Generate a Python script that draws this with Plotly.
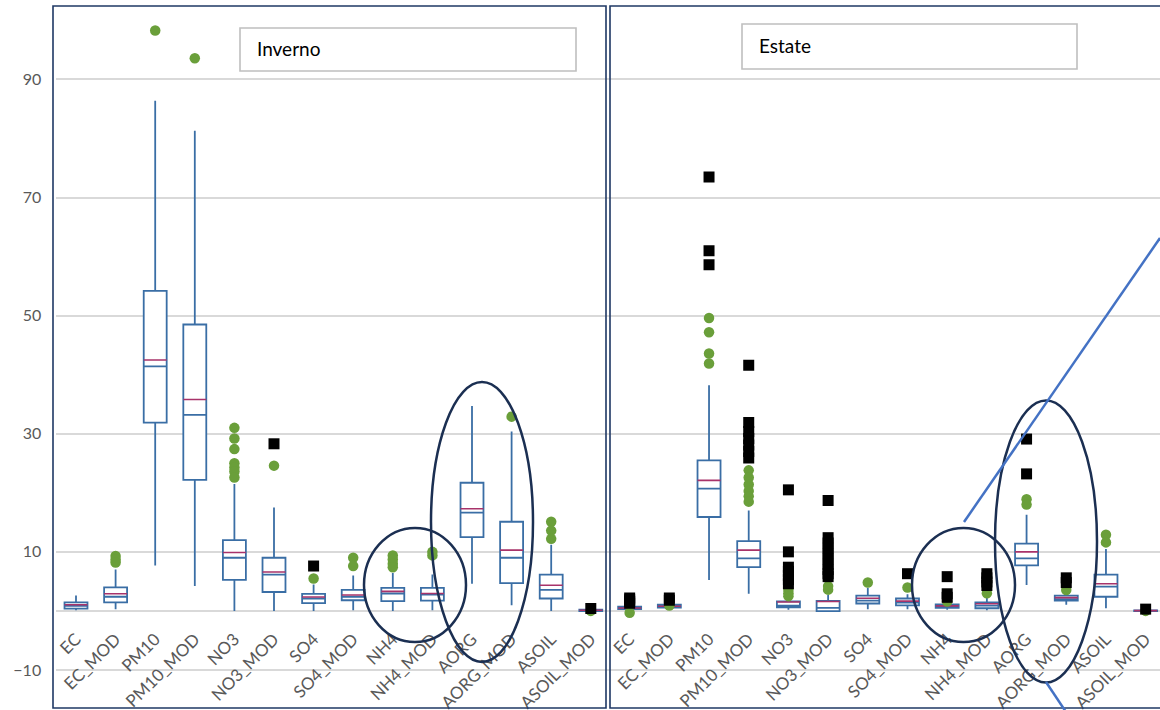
import plotly.graph_objects as go

# ---- data -------------------------------------------------------------
CATEGORIES = ["EC", "EC_MOD", "PM10", "PM10_MOD", "NO3", "NO3_MOD", "SO4",
              "SO4_MOD", "NH4", "NH4_MOD", "AORG", "AORG_MOD", "ASOIL", "ASOIL_MOD"]

# Inverno (winter) box statistics
inv_lower = [0.1, 0.3, 7.7, 4.2, 0.0, 0.0, 0.0, 0.1, 0.0, 0.1, 4.6, 0.95, 0.0, -0.1]
inv_q1 = [0.4, 1.45, 31.9, 22.2, 5.25, 3.2, 1.3, 1.8, 1.65, 1.75, 12.5, 4.7, 2.1, -0.05]
inv_median = [0.85, 2.4, 41.4, 33.2, 9.0, 6.15, 2.1, 2.4, 2.95, 2.75, 16.65, 9.0, 3.55, 0.05]
inv_q3 = [1.45, 4.0, 54.2, 48.5, 12.0, 9.0, 2.9, 3.55, 3.9, 3.9, 21.7, 15.1, 6.15, 0.2]
inv_upper = [2.6, 7.0, 86.4, 81.3, 21.5, 17.5, 4.45, 6.0, 6.4, 6.15, 34.7, 30.4, 11.2, 0.3]
inv_mean = [1.05, 2.9, 42.5, 35.8, 9.9, 6.6, 2.35, 2.7, 3.3, 2.95, 17.3, 10.3, 4.35, 0.1]

inv_green_cat = ["EC_MOD"] * 3 + ["PM10", "PM10_MOD"] + ["NO3"] * 7 + ["NO3_MOD", "SO4"] \
    + ["SO4_MOD"] * 2 + ["NH4"] * 4 + ["NH4_MOD"] * 2 + ["AORG_MOD"] + ["ASOIL"] * 3 + ["ASOIL_MOD"]
inv_green_val = [9.3, 8.7, 8.2, 98.3, 93.6, 31.0, 29.2, 27.4, 25.0, 24.3, 23.6, 22.6, 24.6, 5.5,
                 9.0, 7.6, 9.4, 8.7, 8.0, 7.4, 10.0, 9.4, 32.9, 15.1, 13.6, 12.2, 0.0]

inv_black_cat = ["NO3_MOD", "SO4", "ASOIL_MOD"]
inv_black_val = [28.3, 7.6, 0.4]

# Estate (summer) box statistics
est_lower = [0.1, 0.2, 5.25, 2.9, 0.2, 0.0, 0.3, 0.3, 0.2, 0.1, 4.4, 1.05, 0.45, -0.1]
est_q1 = [0.3, 0.55, 15.9, 7.4, 0.6, -0.05, 1.25, 0.95, 0.5, 0.45, 7.7, 1.75, 2.4, -0.05]
est_median = [0.45, 0.75, 20.7, 8.9, 0.9, 0.5, 1.75, 1.4, 0.7, 0.9, 8.9, 2.0, 4.1, 0.0]
est_q3 = [0.7, 1.05, 25.5, 11.8, 1.6, 1.7, 2.6, 2.1, 1.1, 1.45, 11.4, 2.6, 6.15, 0.1]
est_upper = [1.0, 1.3, 38.2, 17.0, 2.5, 2.7, 3.9, 2.8, 1.4, 2.6, 16.3, 3.0, 10.5, 0.2]
est_mean = [0.5, 0.8, 22.1, 10.3, 1.5, 1.6, 2.15, 1.65, 0.85, 1.2, 10.0, 2.25, 4.6, 0.05]

est_green_cat = ["EC", "EC_MOD"] + ["PM10"] * 4 + ["PM10_MOD"] * 6 + ["NO3"] * 3 + ["NO3_MOD"] * 2 \
    + ["SO4", "SO4_MOD", "NH4", "NH4_MOD"] + ["AORG"] * 2 + ["AORG_MOD"] + ["ASOIL"] * 2 + ["ASOIL_MOD"]
est_green_val = [-0.3, 0.9, 49.6, 47.2, 43.6, 41.9, 23.8, 22.6, 21.4, 20.3, 19.4, 18.5,
                 3.6, 3.0, 2.5, 4.2, 3.6, 4.8, 3.95, 1.6, 3.0, 18.9, 18.0, 3.55, 12.9, 11.6, 0.0]

est_black_cat = ["EC"] * 4 + ["EC_MOD"] * 2 + ["PM10"] * 3 + ["PM10_MOD"] * 7 + ["NO3"] * 7 \
    + ["NO3_MOD"] * 10 + ["SO4_MOD"] + ["NH4"] * 3 + ["NH4_MOD"] * 4 + ["AORG"] * 2 \
    + ["AORG_MOD"] * 2 + ["ASOIL_MOD"]
est_black_val = [2.2, 1.9, 1.6, 1.3, 2.2, 1.8, 73.5, 61.0, 58.6,
                 41.6, 31.9, 30.4, 29.2, 28.1, 27.0, 25.9,
                 20.5, 10.0, 7.4, 6.7, 6.0, 5.3, 4.6,
                 18.7, 12.4, 11.5, 10.6, 9.7, 8.8, 7.9, 7.0, 6.3, 5.8,
                 6.3, 5.8, 2.9, 2.3, 6.3, 5.6, 4.9, 4.3, 29.1, 23.2, 5.6, 4.8, 0.3]

Y_TICKS = [-10, 10, 30, 50, 70, 90]
PANEL_TITLES = ["Inverno", "Estate"]

# ---- styling ----------------------------------------------------------
W, H = 1160, 710
FONT = "Lato"
BOX_BLUE = "#3A6EA5"
MEAN_PINK = "#A8336A"
OUT_GREEN = "#6A9F3A"
FRAME = "#1F3864"
RING = "#1B2F52"
GRID = "#D9D9D9"
TEXT_GREY = "#595959"


def px(x):
    return x / W


def py(y):
    return 1 - y / H


fig = go.Figure()

panels = [
    ("x", "y", inv_lower, inv_q1, inv_median, inv_q3, inv_upper, inv_mean,
     inv_green_cat, inv_green_val, inv_black_cat, inv_black_val),
    ("x2", "y2", est_lower, est_q1, est_median, est_q3, est_upper, est_mean,
     est_green_cat, est_green_val, est_black_cat, est_black_val),
]

for (xa, ya, lo, q1, med, q3, up, mean, gcat, gval, bcat, bval) in panels:
    fig.add_trace(go.Box(
        x=CATEGORIES, q1=q1, median=med, q3=q3, lowerfence=lo, upperfence=up,
        xaxis=xa, yaxis=ya, width=0.58, whiskerwidth=0,
        line=dict(color=BOX_BLUE, width=1.8), fillcolor="white",
        boxpoints=False, hoverinfo="skip",
    ))
    # mean marker line across each box
    fig.add_trace(go.Box(
        x=CATEGORIES, q1=mean, median=mean, q3=mean, lowerfence=mean, upperfence=mean,
        xaxis=xa, yaxis=ya, width=0.58, whiskerwidth=0,
        line=dict(color=MEAN_PINK, width=1.6), fillcolor="rgba(0,0,0,0)",
        boxpoints=False, hoverinfo="skip",
    ))
    fig.add_trace(go.Scatter(
        x=gcat, y=gval, xaxis=xa, yaxis=ya, mode="markers",
        marker=dict(symbol="circle", size=10.5, color=OUT_GREEN),
        hoverinfo="skip",
    ))
    fig.add_trace(go.Scatter(
        x=bcat, y=bval, xaxis=xa, yaxis=ya, mode="markers",
        marker=dict(symbol="square", size=11, color="black"),
        hoverinfo="skip",
    ))

# y scale: 5.905 px per unit, zero at 610.9 px
y_top = 610.9 / 5.905
y_range = [y_top - H / 5.905, y_top]

common_x = dict(
    type="category", anchor="free", position=py(611), showline=False,
    showgrid=False, zeroline=False, ticks="", tickangle=-45,
    tickfont=dict(family=FONT, size=17, color=TEXT_GREY),
    ticklabelstandoff=14, automargin=False, categoryorder="array",
    categoryarray=CATEGORIES,
)
common_y = dict(
    range=y_range, domain=[0, 1], tickmode="array", tickvals=Y_TICKS,
    showgrid=True, gridcolor=GRID, gridwidth=1.8,
    zeroline=True, zerolinecolor=GRID, zerolinewidth=1.8,
    showline=False, ticks="", automargin=False,
)

fig.update_layout(
    width=W, height=H,
    margin=dict(l=0, r=0, t=0, b=0),
    paper_bgcolor="white", plot_bgcolor="white",
    showlegend=False, boxmode="overlay",
    font=dict(family=FONT, color=TEXT_GREY),
    xaxis=dict(domain=[px(56.2), px(610.6)], range=[-0.5, 13.5], **common_x),
    xaxis2=dict(domain=[px(609.8), 1], range=[-0.5, 13.5 - 5.5 / 39.7], **common_x),
    yaxis=dict(anchor="x", showticklabels=True, ticklabelstandoff=14,
               tickfont=dict(family=FONT, size=16, color=TEXT_GREY), **common_y),
    yaxis2=dict(anchor="x2", matches="y", showticklabels=False, **common_y),
)

shapes = []
# panel frames
shapes.append(dict(type="rect", xref="paper", yref="paper", x0=px(53), x1=px(606),
                   y0=py(708), y1=py(6), line=dict(color=FRAME, width=1.6)))
shapes.append(dict(type="rect", xref="paper", yref="paper", x0=px(610), x1=px(1175),
                   y0=py(708), y1=py(6), line=dict(color=FRAME, width=1.6)))
# title boxes
for (x0, x1, y0, y1) in [(240, 576, 28, 71), (742, 1077, 24, 69)]:
    shapes.append(dict(type="rect", xref="paper", yref="paper", x0=px(x0), x1=px(x1),
                       y0=py(y1), y1=py(y0), fillcolor="white",
                       line=dict(color="#BFBFBF", width=1.6)))
# highlight ellipses
for (cx, cy, rx, ry) in [(415, 585, 51, 57), (482, 522, 51, 140),
                         (963.5, 585, 51.5, 57), (1046, 541.5, 51, 141)]:
    shapes.append(dict(type="circle", xref="paper", yref="paper",
                       x0=px(cx - rx), x1=px(cx + rx), y0=py(cy + ry), y1=py(cy - ry),
                       line=dict(color=RING, width=2.5)))
# pointer lines
shapes.append(dict(type="line", xref="paper", yref="paper", x0=px(964), y0=py(522),
                   x1=px(1160), y1=py(238), line=dict(color="#4472C4", width=2.5)))
shapes.append(dict(type="line", xref="paper", yref="paper", x0=px(1046), y0=py(682),
                   x1=px(1066), y1=py(712), line=dict(color="#4472C4", width=2.5)))
fig.update_layout(shapes=shapes)

for title, (tx, ty) in zip(PANEL_TITLES, [(255, 48), (757, 45)]):
    fig.add_annotation(text=title, xref="paper", yref="paper", x=px(tx), y=py(ty),
                       xanchor="left", yanchor="middle", showarrow=False,
                       font=dict(family=FONT, size=19, color="black"))

fig.write_html("out.html")
